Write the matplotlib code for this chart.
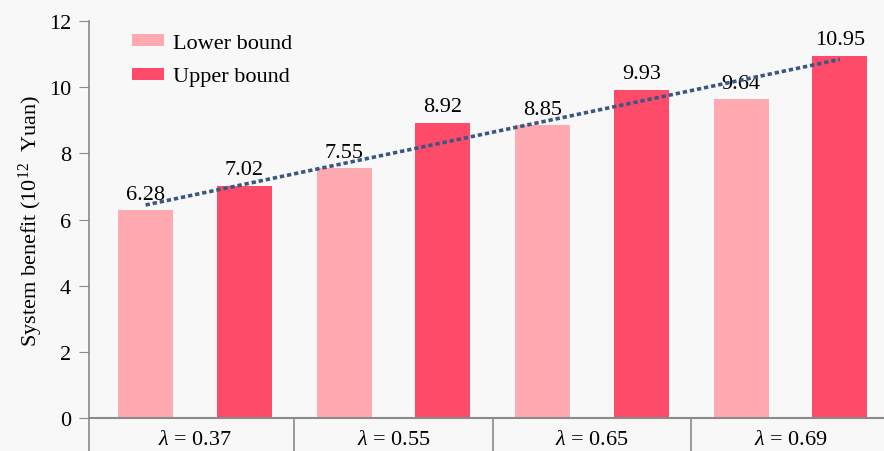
import numpy as np
import matplotlib
matplotlib.use('Agg')
import matplotlib.pyplot as plt

# Benefit values for each confidence level
groups = ['0.37', '0.55', '0.65', '0.69']
lower = [6.28, 7.55, 8.85, 9.64]
upper = [7.02, 8.92, 9.93, 10.95]

plt.rcParams['font.family'] = ['Liberation Serif', 'DejaVu Serif']
plt.rcParams['mathtext.fontset'] = 'custom'
plt.rcParams['mathtext.rm'] = 'Liberation Serif'
plt.rcParams['mathtext.it'] = 'Liberation Serif:italic'

bg = '#f8f8f8'
c_low = '#ffaab0'
c_up = '#fe4b69'
edge = '#8a8a8a'
fs = 16

fig = plt.figure(figsize=(8.84, 4.52), dpi=100, facecolor=bg)
ax = fig.add_axes([0.1007, 0.073, 0.8993, 0.878], facecolor=bg)

x = np.arange(len(groups))
w = 0.277
off = 0.249
ax.bar(x - off, lower, w, color=c_low, label='Lower bound', zorder=2)
ax.bar(x + off, upper, w, color=c_up, label='Upper bound', zorder=2)

for xi, lo, up in zip(x, lower, upper):
    ax.text(xi - off, lo + 0.2, '%.2f' % lo, ha='center', va='bottom', fontsize=fs)
    ax.text(xi + off, up + 0.2, '%.2f' % up, ha='center', va='bottom', fontsize=fs)

# linear trend across all bars in order
xs = np.ravel(np.column_stack([x - off, x + off]))
ys = np.ravel(np.column_stack([lower, upper]))
k, b = np.polyfit(xs, ys, 1)
ax.plot([xs[0], xs[-1]], [k * xs[0] + b, k * xs[-1] + b], color='#3b5683',
        lw=2.6, ls=(0, (1.2, 0.8)), zorder=3)

ax.set_xlim(-0.534, 3.471)
ax.set_ylim(0, 12)
ax.set_yticks(range(0, 13, 2))
ax.set_xticks([])
ax.tick_params(axis='y', direction='out', length=7, color=edge, labelsize=fs, pad=6)
for s in ['top', 'right']:
    ax.spines[s].set_visible(False)
ax.spines['left'].set_color(edge)
ax.spines['bottom'].set_color(edge)
ax.spines['left'].set_linewidth(1.2)
ax.spines['bottom'].set_linewidth(1.5)

# category separators below the axis
for sx in [-0.534, 0.5, 1.5, 2.5]:
    ax.plot([sx, sx], [0, -1.2], color=edge, lw=1.2, clip_on=False)
for xi, g in zip(x, groups):
    ax.text(xi, -0.66, r'$\lambda$ = ' + g, ha='center', va='center', fontsize=fs)

ax.set_ylabel('System benefit (10$^{12}$  Yuan)', fontsize=fs, labelpad=3)

ax.legend(loc='upper left', bbox_to_anchor=(0.029, 1.018), frameon=False, fontsize=fs,
          handlelength=1.45, handleheight=0.45, handletextpad=0.4, labelspacing=0.65)

fig.savefig('out.png', dpi=100, facecolor=bg)
